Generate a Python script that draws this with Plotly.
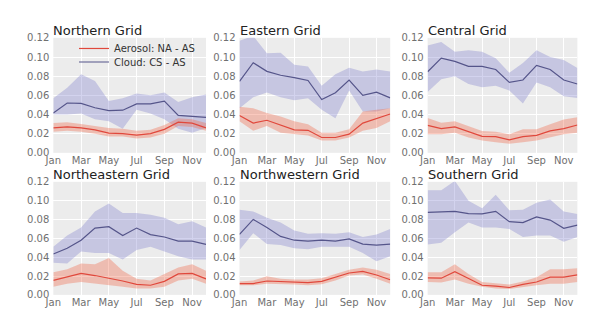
import plotly.graph_objects as go

month_names = ["Jan", "Feb", "Mar", "Apr", "May", "Jun", "Jul", "Aug", "Sep", "Oct", "Nov", "Dec"]
months = list(range(1, 13))
tick_months = [1, 3, 5, 7, 9, 11]
y_ticks = [0.0, 0.02, 0.04, 0.06, 0.08, 0.10, 0.12]

titles = ["Northern Grid", "Eastern Grid", "Central Grid",
          "Northeastern Grid", "Northwestern Grid", "Southern Grid"]

# Northern
n_aer = [0.026, 0.027, 0.026, 0.024, 0.0205, 0.020, 0.0185, 0.020, 0.0245, 0.032, 0.031, 0.026]
n_aer_hi = [0.031, 0.032, 0.030, 0.028, 0.026, 0.025, 0.023, 0.024, 0.029, 0.036, 0.035, 0.031]
n_aer_lo = [0.022, 0.023, 0.022, 0.020, 0.017, 0.017, 0.015, 0.016, 0.020, 0.028, 0.027, 0.023]
n_cld = [0.0415, 0.052, 0.0516, 0.047, 0.044, 0.0445, 0.051, 0.051, 0.054, 0.039, 0.038, 0.037]
n_cld_hi = [0.057, 0.068, 0.082, 0.075, 0.054, 0.057, 0.062, 0.060, 0.063, 0.053, 0.058, 0.061]
n_cld_lo = [0.040, 0.040, 0.041, 0.035, 0.033, 0.025, 0.045, 0.041, 0.035, 0.025, 0.021, 0.026]

# Eastern
e_aer = [0.039, 0.031, 0.034, 0.029, 0.024, 0.0235, 0.016, 0.016, 0.0195, 0.031, 0.0357, 0.0405]
e_aer_hi = [0.048, 0.0465, 0.0415, 0.038, 0.033, 0.0297, 0.021, 0.021, 0.0246, 0.043, 0.045, 0.0465]
e_aer_lo = [0.033, 0.023, 0.028, 0.021, 0.0195, 0.018, 0.0128, 0.0128, 0.016, 0.023, 0.026, 0.033]
e_cld = [0.0745, 0.094, 0.085, 0.081, 0.0785, 0.0755, 0.0556, 0.0627, 0.076, 0.060, 0.0634, 0.0573]
e_cld_hi = [0.117, 0.122, 0.104, 0.1045, 0.092, 0.090, 0.070, 0.082, 0.0887, 0.085, 0.087, 0.085]
e_cld_lo = [0.0465, 0.058, 0.063, 0.058, 0.055, 0.057, 0.045, 0.036, 0.065, 0.043, 0.043, 0.0465]

# Central
c_aer = [0.0287, 0.0253, 0.027, 0.0219, 0.0172, 0.0169, 0.0135, 0.0169, 0.0182, 0.0229, 0.0253, 0.029]
c_aer_hi = [0.0364, 0.0313, 0.033, 0.028, 0.0229, 0.0219, 0.0195, 0.0246, 0.0246, 0.0297, 0.0347, 0.0371]
c_aer_lo = [0.0195, 0.0195, 0.021, 0.016, 0.0128, 0.011, 0.0094, 0.011, 0.0128, 0.016, 0.0195, 0.021]
c_cld = [0.0846, 0.0988, 0.0954, 0.0903, 0.0903, 0.087, 0.0735, 0.076, 0.0913, 0.087, 0.076, 0.0718]
c_cld_hi = [0.112, 0.1156, 0.1055, 0.107, 0.1055, 0.0988, 0.0836, 0.0937, 0.107, 0.100, 0.097, 0.0886]
c_cld_lo = [0.0634, 0.0769, 0.080, 0.0718, 0.0684, 0.070, 0.065, 0.0516, 0.0735, 0.0684, 0.059, 0.0573]

# Northeastern
ne_aer = [0.0153, 0.0188, 0.0228, 0.0205, 0.0177, 0.0147, 0.0112, 0.0102, 0.0143, 0.0222, 0.0228, 0.017]
ne_aer_hi = [0.0239, 0.0273, 0.0334, 0.0324, 0.0392, 0.0256, 0.017, 0.0153, 0.0222, 0.029, 0.0324, 0.0256]
ne_aer_lo = [0.0085, 0.0119, 0.0136, 0.0119, 0.0102, 0.0085, 0.0068, 0.0068, 0.0085, 0.0153, 0.017, 0.0119]
ne_cld = [0.0433, 0.0494, 0.058, 0.0709, 0.0723, 0.063, 0.0709, 0.064, 0.0614, 0.057, 0.057, 0.0535]
ne_cld_hi = [0.051, 0.063, 0.0716, 0.0886, 0.097, 0.087, 0.087, 0.085, 0.0818, 0.075, 0.078, 0.0716]
ne_cld_lo = [0.034, 0.0334, 0.046, 0.0443, 0.0443, 0.0375, 0.0477, 0.051, 0.046, 0.041, 0.0375, 0.0375]

# Northwestern
nw_aer = [0.0119, 0.0119, 0.0147, 0.0143, 0.0136, 0.013, 0.0143, 0.0188, 0.0232, 0.0249, 0.0211, 0.016]
nw_aer_hi = [0.0143, 0.0153, 0.0198, 0.017, 0.0164, 0.0164, 0.0177, 0.0222, 0.0266, 0.029, 0.0266, 0.0222]
nw_aer_lo = [0.0102, 0.0102, 0.0119, 0.0112, 0.0109, 0.0102, 0.0112, 0.0153, 0.0205, 0.0215, 0.017, 0.0119]
nw_cld = [0.0641, 0.0801, 0.0716, 0.062, 0.058, 0.057, 0.058, 0.057, 0.0593, 0.0539, 0.0528, 0.0539]
nw_cld_hi = [0.0903, 0.0886, 0.0818, 0.0767, 0.0682, 0.0648, 0.0655, 0.0648, 0.0665, 0.0614, 0.0641, 0.0699]
nw_cld_lo = [0.0477, 0.0655, 0.0539, 0.0528, 0.0494, 0.0484, 0.051, 0.051, 0.051, 0.0443, 0.0358, 0.0409]

# Southern
s_aer = [0.0181, 0.0177, 0.0245, 0.017, 0.0102, 0.0092, 0.0078, 0.0112, 0.0136, 0.0188, 0.0188, 0.0211]
s_aer_hi = [0.0239, 0.0239, 0.0324, 0.0222, 0.0136, 0.0119, 0.0109, 0.0143, 0.0188, 0.0273, 0.0273, 0.0283]
s_aer_lo = [0.0136, 0.013, 0.0164, 0.0119, 0.0085, 0.0068, 0.0061, 0.0078, 0.0102, 0.0119, 0.0119, 0.0136]
s_cld = [0.0876, 0.0879, 0.0886, 0.0862, 0.0859, 0.0886, 0.0777, 0.0767, 0.0828, 0.0794, 0.0706, 0.074]
s_cld_hi = [0.111, 0.111, 0.121, 0.100, 0.092, 0.1063, 0.0897, 0.0903, 0.0978, 0.1012, 0.0886, 0.0859]
s_cld_lo = [0.0535, 0.0552, 0.0665, 0.0767, 0.0716, 0.0716, 0.0699, 0.0614, 0.0631, 0.0631, 0.0563, 0.0614]

panels = [
    (n_aer, n_aer_lo, n_aer_hi, n_cld, n_cld_lo, n_cld_hi),
    (e_aer, e_aer_lo, e_aer_hi, e_cld, e_cld_lo, e_cld_hi),
    (c_aer, c_aer_lo, c_aer_hi, c_cld, c_cld_lo, c_cld_hi),
    (ne_aer, ne_aer_lo, ne_aer_hi, ne_cld, ne_cld_lo, ne_cld_hi),
    (nw_aer, nw_aer_lo, nw_aer_hi, nw_cld, nw_cld_lo, nw_cld_hi),
    (s_aer, s_aer_lo, s_aer_hi, s_cld, s_cld_lo, s_cld_hi),
]

W, H = 602, 325
col_px = [(45, 200), (234, 387), (425, 577)]
row_px = [(34, 153), (183, 300)]

RED = "#e0483c"
RED_FILL = "rgba(240,100,70,0.35)"
BLUE = "#55558a"
BLUE_FILL = "rgba(110,110,200,0.30)"
BG = "#ececec"
TICK_FONT = dict(family="DejaVu Sans", size=10, color="#707070")

fig = go.Figure()
layout = dict(
    width=W, height=H,
    margin=dict(l=0, r=0, t=0, b=0),
    paper_bgcolor="white",
    plot_bgcolor=BG,
    showlegend=True,
    annotations=[],
)

for i, (aer, aer_lo, aer_hi, cld, cld_lo, cld_hi) in enumerate(panels):
    r, c = divmod(i, 3)
    n = i + 1
    xa = "x" if n == 1 else f"x{n}"
    ya = "y" if n == 1 else f"y{n}"
    x0, x1 = col_px[c]
    y0, y1 = row_px[r]
    dom_x = [x0 / W, x1 / W]
    dom_y = [1 - y1 / H, 1 - y0 / H]
    xkey = "xaxis" if n == 1 else f"xaxis{n}"
    ykey = "yaxis" if n == 1 else f"yaxis{n}"
    layout[xkey] = dict(
        domain=dom_x, anchor=ya, range=[1, 12],
        tickvals=tick_months, ticktext=[month_names[m - 1] for m in tick_months],
        showgrid=True, gridcolor="white", gridwidth=1, zeroline=False,
        showline=False, ticks="", tickfont=TICK_FONT, ticklabelstandoff=0,
    )
    layout[ykey] = dict(
        domain=dom_y, anchor=xa, range=[0, 0.12],
        tickvals=y_ticks, ticktext=[f"{v:.2f}" for v in y_ticks],
        showgrid=True, gridcolor="white", gridwidth=1, zeroline=False,
        showline=False, ticks="", tickfont=TICK_FONT, ticklabelstandoff=3,
    )
    # bands
    fig.add_trace(go.Scatter(
        x=months + months[::-1], y=cld_hi + cld_lo[::-1],
        fill="toself", fillcolor=BLUE_FILL, line=dict(width=0),
        mode="lines", hoverinfo="skip", showlegend=False, xaxis=xa, yaxis=ya))
    fig.add_trace(go.Scatter(
        x=months + months[::-1], y=aer_hi + aer_lo[::-1],
        fill="toself", fillcolor=RED_FILL, line=dict(width=0),
        mode="lines", hoverinfo="skip", showlegend=False, xaxis=xa, yaxis=ya))
    # lines
    fig.add_trace(go.Scatter(
        x=months, y=aer, mode="lines", line=dict(color=RED, width=1.2),
        name="Aerosol: NA - AS", showlegend=(i == 0), legend="legend",
        xaxis=xa, yaxis=ya))
    fig.add_trace(go.Scatter(
        x=months, y=cld, mode="lines", line=dict(color=BLUE, width=1.2),
        name="Cloud: CS - AS", showlegend=(i == 0), legend="legend2",
        xaxis=xa, yaxis=ya))
    layout["annotations"].append(dict(
        text=titles[i], xref="paper", yref="paper",
        x=x0 / W, y=1 - (y0 + 2) / H, xanchor="left", yanchor="bottom",
        showarrow=False, font=dict(family="DejaVu Sans", size=13, color="#222222"),
        xshift=-2,
    ))

leg_common = dict(bgcolor="rgba(0,0,0,0)", borderwidth=0,
                  font=dict(family="DejaVu Sans", size=10, color="#333333"),
                  xanchor="left", yanchor="middle", itemwidth=30)
layout["legend"] = dict(leg_common, x=66 / W, y=1 - 45 / H)
layout["legend2"] = dict(leg_common, x=66 / W, y=1 - 59 / H)

fig.update_layout(**layout)
fig.write_html("out.html")
